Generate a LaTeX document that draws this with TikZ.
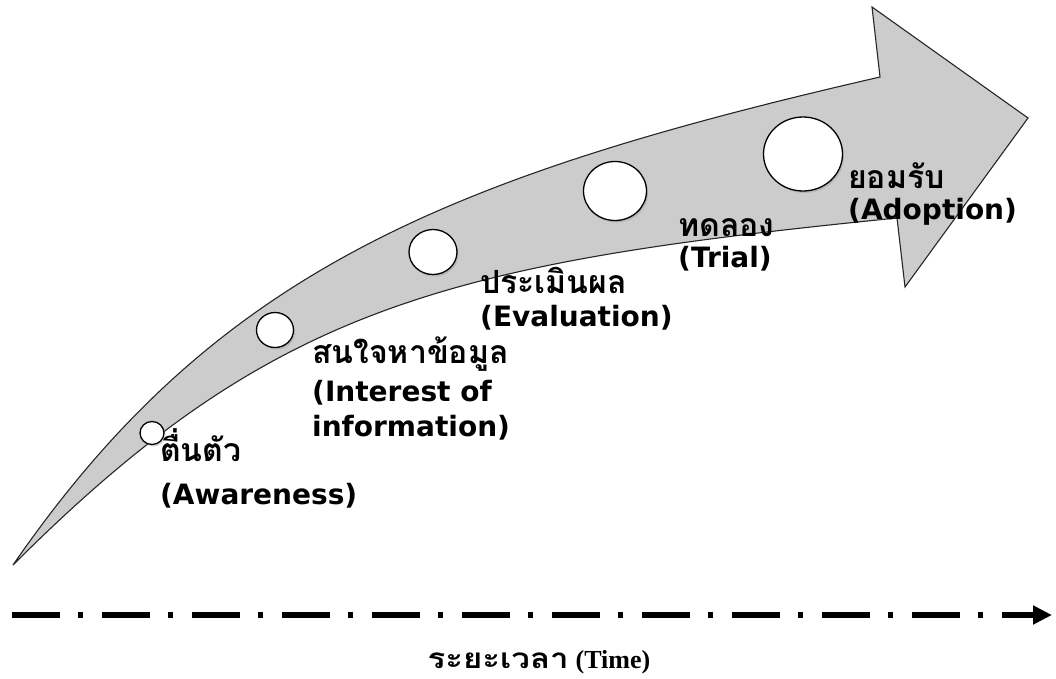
\documentclass[tikz,border=0pt]{standalone}
\usepackage{fontspec}
\usepackage{graphicx}
\usetikzlibrary{shapes.geometric,arrows.meta}
\newfontfamily\thaifont[Script=Thai]{Loma}
\newfontfamily\latinfont{DejaVu Sans}
\newfontfamily\timesfont{Liberation Serif}
\tikzset{
  arrowbody/.style={fill=black!20, draw=black!85, line width=1.1pt, line join=miter},
  stage/.style={ellipse, draw=black, line width=1.3pt, fill=white, inner sep=0pt},
  stageshadow/.style={ellipse, fill=black!45, opacity=0.35, inner sep=0pt, draw=none},
  thlbl/.style={anchor=base west, inner sep=0pt, font=\thaifont\bfseries\fontsize{32}{32}\selectfont},
  enlbl/.style={anchor=base west, inner sep=0pt, font=\latinfont\bfseries\fontsize{28}{28}\selectfont},
  timeline/.style={line width=6.5pt, dash pattern=on 48pt off 18pt on 5pt off 19pt, -{Triangle[length=19pt,width=18pt]}},
}
\begin{document}
\begin{tikzpicture}[x=1pt,y=-1pt]
\useasboundingbox (0,0) rectangle (1056,679);
% curved arrow body
\coordinate (tail) at (13,565);
\coordinate (nu) at (880,77);
\coordinate (hu) at (872,7);
\coordinate (tip) at (1028,118);
\coordinate (hl) at (905,287);
\coordinate (nl) at (897,218);
\draw[arrowbody]
  (tail) .. controls (213,275) and (440,178) .. (nu)
  -- (hu) -- (tip) -- (hl) -- (nl)
  .. controls (447,263) and (273,305) .. (tail) -- cycle;
% stage circles
\foreach \n/\x/\y/\w/\h in {1/152/433/24/23, 2/275/330/37/35, 3/433/252/48/45, 4/615/191/63/59, 5/803/154/79/74}{
  \node[stageshadow, minimum width=\w pt, minimum height=\h pt] (s\n) at (\x+1.5,\y+2) {};
  \node[stage, minimum width=\w pt, minimum height=\h pt] (c\n) at (\x,\y) {};
}
% labels
\node[thlbl] (t1) at (160,461) {ตื่นตัว};
\node[enlbl] (e1) at (160,504) {(Awareness)};
\node[thlbl] (t2) at (312,363) {สนใจหาข้อมูล};
\node[enlbl] (e2a) at (312,401) {(Interest of};
\node[enlbl] (e2b) at (312,436) {information)};
\node[thlbl] (t3) at (480,293) {ประเมินผล};
\node[enlbl] (e3) at (480,326) {(Evaluation)};
\node[thlbl] (t4) at (678,236) {ทดลอง};
\node[enlbl] (e4) at (678,267) {(Trial)};
\node[thlbl] (t5) at (848,188) {ยอมรับ};
\node[enlbl] (e5) at (848,219) {(Adoption)};
% time axis
\coordinate (ts) at (12,615);
\coordinate (te) at (1052,615);
\draw[timeline] (ts) -- (te);
\node[anchor=base, inner sep=0pt] (time) at (539,668) {\scalebox{0.97}[0.82]{\thaifont\bfseries\fontsize{34}{34}\selectfont ระยะเวลา}\hspace{7pt}{\timesfont\bfseries\fontsize{26}{26}\selectfont(Time)}};
\end{tikzpicture}
\end{document}
